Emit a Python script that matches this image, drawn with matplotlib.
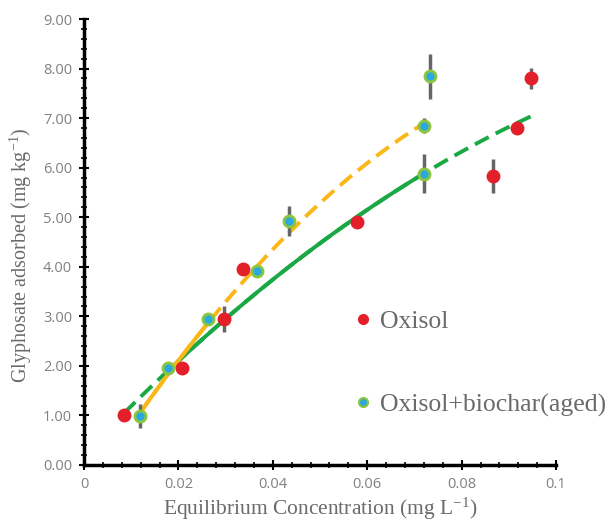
import matplotlib.pyplot as plt
import numpy as np
from matplotlib.lines import Line2D
from matplotlib.ticker import MultipleLocator, FuncFormatter

plt.rcParams['mathtext.fontset'] = 'custom'
plt.rcParams['mathtext.rm'] = 'Liberation Serif'
plt.rcParams['mathtext.it'] = 'Liberation Serif:italic'

# Oxisol
ox_x = [0.0085, 0.0207, 0.0296, 0.0337, 0.0578, 0.0866, 0.0917, 0.0948]
ox_y = [1.00, 1.96, 2.94, 3.95, 4.90, 5.83, 6.81, 7.80]
ox_err = [0.05, 0.10, 0.26, 0.05, 0.12, 0.35, 0.12, 0.22]

# Oxisol + biochar (aged)
bc_x = [0.0119, 0.0178, 0.0263, 0.0366, 0.0434, 0.0720, 0.0720, 0.0732]
bc_y = [0.99, 1.96, 2.95, 3.92, 4.92, 5.88, 6.85, 7.84]
bc_err = [0.25, 0.05, 0.12, 0.12, 0.30, 0.40, 0.15, 0.45]

# trend lines (quadratic coefficients)
ox_fit = [-292.7, 99.66, 0.224]
bc_fit = [-630.0, 150.0, -0.64]

red = '#e3202a'
blue = '#2aa8df'
edge = '#8cc63f'
green = '#1aa844'
orange = '#fbb617'
grey = '#666666'

fig = plt.figure(figsize=(6.09, 5.21), dpi=100)
ax = fig.add_axes([0.138, 0.1075, 0.775, 0.856])

# green trend
xg = np.linspace(min(ox_x), max(ox_x), 200)
yg = np.polyval(ox_fit, xg)
ax.plot(xg, yg, color=green, lw=2.8, dashes=(4, 2), zorder=2)
m = (xg > 0.02) & (xg < 0.071)
ax.plot(xg[m], yg[m], color=green, lw=2.8, zorder=2)

# orange trend
xo = np.linspace(bc_x[0], bc_x[-1], 200)
yo = np.polyval(bc_fit, xo)
ax.plot(xo, yo, color=orange, lw=2.8, dashes=(4, 2), zorder=2)
m = xo < 0.026
ax.plot(xo[m], yo[m], color=orange, lw=2.8, zorder=2)

ax.errorbar(ox_x, ox_y, yerr=ox_err, fmt='none', ecolor=grey, elinewidth=2.5, zorder=3)
ax.errorbar(bc_x, bc_y, yerr=bc_err, fmt='none', ecolor=grey, elinewidth=2.5, zorder=3)
ax.plot(ox_x, ox_y, 'o', color=red, ms=9, mec=red, zorder=4)
ax.plot(bc_x, bc_y, 'o', color=blue, ms=8, mec=edge, mew=2, zorder=4)

ax.set_xlim(0, 0.1)
ax.set_ylim(0, 9)
ax.xaxis.set_major_locator(MultipleLocator(0.02))
ax.xaxis.set_minor_locator(MultipleLocator(0.004))
ax.yaxis.set_major_locator(MultipleLocator(1))
ax.yaxis.set_minor_locator(MultipleLocator(0.2))
ax.xaxis.set_major_formatter(FuncFormatter(lambda v, p: '0' if v == 0 else ('%g' % round(v, 3))))
ax.yaxis.set_major_formatter(FuncFormatter(lambda v, p: '%.2f' % v))

for s in ['top', 'right']:
    ax.spines[s].set_visible(False)
for s in ['left', 'bottom']:
    ax.spines[s].set_linewidth(2.5)
ax.tick_params(which='major', direction='inout', length=7, width=1.5,
               labelsize=10.5, labelcolor='#808080', pad=5)
ax.tick_params(which='minor', direction='inout', length=4, width=1.2)
for lab in ax.get_xticklabels() + ax.get_yticklabels():
    lab.set_family('Open Sans')

ax.set_xlabel('Equilibrium Concentration (mg L$^{-1}$)',
              family='Liberation Serif', size=15.5, color='#6a6a6a', labelpad=3)
ax.set_ylabel('Glyphosate adsorbed (mg kg$^{-1}$)',
              family='Liberation Serif', size=14.5, color='#6a6a6a')
ax.yaxis.set_label_coords(-0.105, 0.47)

handles = [Line2D([], [], ls='none', marker='o', color=red, ms=7),
           Line2D([], [], ls='none', marker='o', color=blue, mec=edge, mew=1.5, ms=6.5)]
leg = ax.legend(handles, ['Oxisol', 'Oxisol+biochar(aged)'], loc='upper left',
                bbox_to_anchor=(0.51, 0.40), frameon=False, labelspacing=2.35,
                handletextpad=0.05, handlelength=1.2,
                prop={'family': 'Liberation Serif', 'size': 18.5})
for t in leg.get_texts():
    t.set_color('#6a6a6a')

fig.savefig('out.png', dpi=100)
